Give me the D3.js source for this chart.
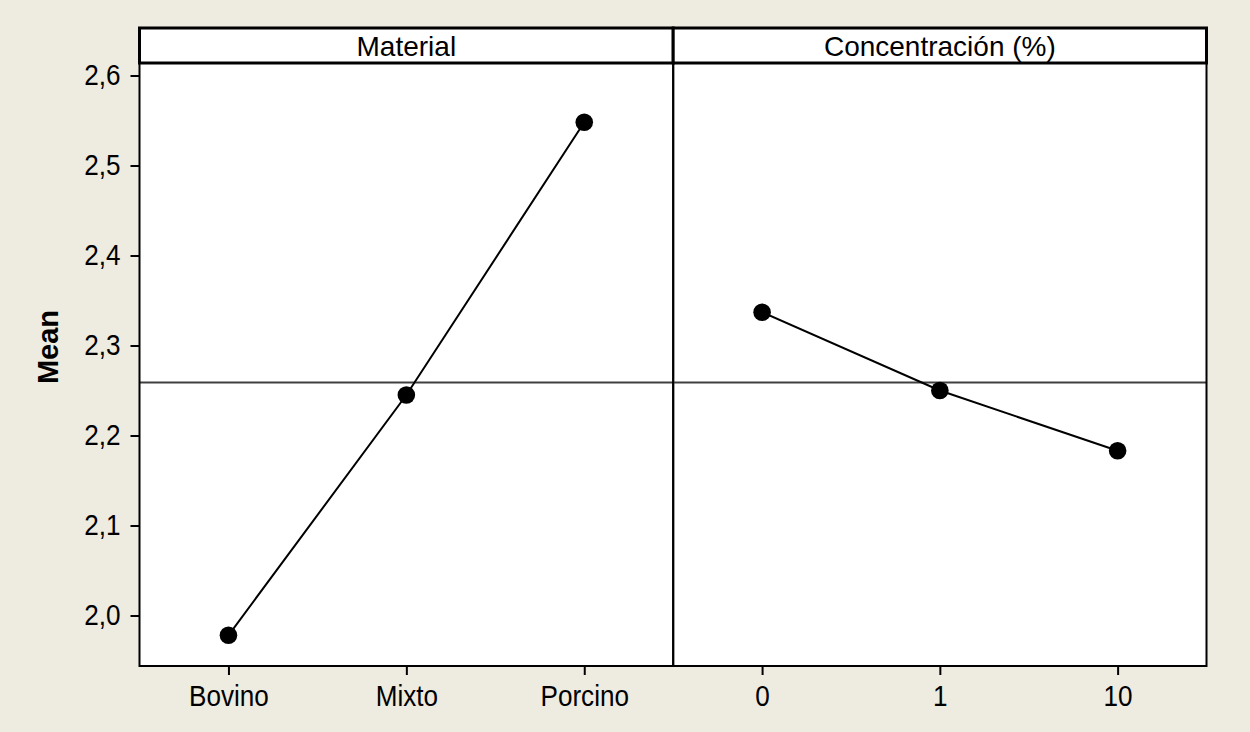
<!DOCTYPE html>
<html>
<head>
<meta charset="utf-8">
<script src="https://cdn.jsdelivr.net/npm/d3@7"></script>
<style>
  html, body { margin: 0; padding: 0; background: #EEEBE0; }
  svg { display: block; }
  text { font-family: "Liberation Sans", Arial, sans-serif; fill: #000; }
</style>
</head>
<body>
<svg id="chart" width="1250" height="732"></svg>
<script>
// Main effects plot for means: one panel per factor
const materialLevels = ["Bovino", "Mixto", "Porcino"];
const materialMeans = [1.978, 2.245, 2.548];
const concentrationLevels = ["0", "1", "10"];
const concentrationMeans = [2.337, 2.250, 2.183];
const grandMean = 2.259;
const yTicks = [2.0, 2.1, 2.2, 2.3, 2.4, 2.5, 2.6];
const panelTitles = ["Material", "Concentración (%)"];
const yTitle = "Mean";

(function () {
  const svg = d3.select("#chart");

  const frameLeft = 139.5, frameRight = 1206.5, frameTop = 28, stripBottom = 63, frameBottom = 666;
  const mid = (frameLeft + frameRight) / 2 + 0.2;
  const fontSize = 29, squeeze = "scale(0.9,1)";

  const y = d3.scaleLinear().domain([1.9439, 2.6139]).range([frameBottom, stripBottom]);

  const panels = [
    { title: panelTitles[0], levels: materialLevels, means: materialMeans, x0: frameLeft, x1: mid },
    { title: panelTitles[1], levels: concentrationLevels, means: concentrationMeans, x0: mid, x1: frameRight }
  ];

  // white panel backgrounds
  svg.append("rect")
    .attr("x", frameLeft).attr("y", frameTop)
    .attr("width", frameRight - frameLeft).attr("height", frameBottom - frameTop)
    .attr("fill", "#fff");

  panels.forEach(p => {
    const x = d3.scalePoint().domain(p.levels).range([p.x0, p.x1]).padding(0.5);

    // grand mean reference line
    svg.append("line")
      .attr("x1", p.x0).attr("x2", p.x1)
      .attr("y1", y(grandMean)).attr("y2", y(grandMean))
      .attr("stroke", "#404040").attr("stroke-width", 2);

    const pts = p.levels.map((l, i) => [x(l), y(p.means[i])]);

    svg.append("path")
      .attr("d", d3.line()(pts))
      .attr("fill", "none").attr("stroke", "#000").attr("stroke-width", 2);

    svg.selectAll(null).data(pts).enter().append("circle")
      .attr("cx", d => d[0]).attr("cy", d => d[1])
      .attr("r", 8.8).attr("fill", "#000");

    // x axis
    const xa = svg.append("g")
      .attr("transform", `translate(0,${frameBottom})`)
      .call(d3.axisBottom(x).tickSize(9).tickSizeOuter(0).tickPadding(10));
    xa.select(".domain").remove();
    xa.selectAll(".tick line").attr("stroke", "#000").attr("stroke-width", 2);
    xa.selectAll(".tick text")
      .attr("font-size", fontSize).attr("font-family", "Liberation Sans, Arial, sans-serif")
      .attr("fill", "#000").attr("transform", squeeze);

    // strip box and title
    svg.append("rect")
      .attr("x", p.x0).attr("y", frameTop)
      .attr("width", p.x1 - p.x0).attr("height", stripBottom - frameTop)
      .attr("fill", "#fff").attr("stroke", "#000").attr("stroke-width", 3);
    svg.append("text")
      .attr("x", (p.x0 + p.x1) / 2).attr("y", 56)
      .attr("text-anchor", "middle").attr("font-size", 28)
      .text(p.title);

    // panel frame
    svg.append("rect")
      .attr("x", p.x0).attr("y", stripBottom)
      .attr("width", p.x1 - p.x0).attr("height", frameBottom - stripBottom)
      .attr("fill", "none").attr("stroke", "#000").attr("stroke-width", 2);
  });

  // y axis
  const ya = svg.append("g")
    .attr("transform", `translate(${frameLeft},0)`)
    .call(d3.axisLeft(y).tickValues(yTicks).tickSize(9).tickSizeOuter(0).tickPadding(12)
      .tickFormat(d => d3.format(".1f")(d).replace(".", ",")));
  ya.select(".domain").remove();
  ya.selectAll(".tick line").attr("stroke", "#000").attr("stroke-width", 2);
  ya.selectAll(".tick text")
    .attr("font-size", fontSize).attr("font-family", "Liberation Sans, Arial, sans-serif")
    .attr("fill", "#000").attr("transform", squeeze);

  svg.append("text")
    .attr("transform", `translate(58,${(frameTop + frameBottom) / 2}) rotate(-90)`)
    .attr("text-anchor", "middle").attr("font-size", 29).attr("font-weight", "bold")
    .text(yTitle);
})();
</script>
</body>
</html>
